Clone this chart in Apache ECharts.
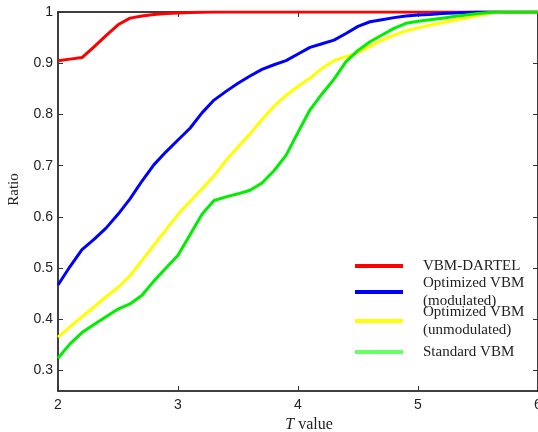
<!DOCTYPE html>
<html>
<head>
<meta charset="utf-8">
<script src="https://cdn.jsdelivr.net/npm/echarts@6/dist/echarts.min.js"></script>
<style>html,body{margin:0;padding:0;background:#fff}#c{width:538px;height:432px}</style>
</head>
<body>
<div id="c"></div>
<script>
var tValues = [2.0,2.1,2.2,2.3,2.4,2.5,2.6,2.7,2.8,2.9,3.0,3.1,3.2,3.3,3.4,3.5,3.6,3.7,3.8,3.9,4.0,4.1,4.2,4.3,4.4,4.5,4.6,4.7,4.8,4.9,5.0,5.1,5.2,5.3,5.4,5.5,5.6,5.7,5.8,5.9,6.0];
var dartel = [0.905,0.908,0.911,0.932,0.954,0.975,0.988,0.992,0.995,0.997,0.998,0.999,0.9995,1,1,1,1,1,1,1,1,1,1,1,1,1,1,1,1,1,1,1,1,1,1,1,1,1,1,1,1];
var optMod = [0.467,0.503,0.536,0.556,0.578,0.605,0.635,0.670,0.702,0.727,0.750,0.773,0.803,0.828,0.845,0.861,0.875,0.888,0.897,0.905,0.918,0.931,0.938,0.945,0.958,0.972,0.981,0.985,0.989,0.992,0.994,0.995,0.997,0.998,0.999,1,1,1,1,1,1];
var optUnmod = [0.365,0.385,0.405,0.424,0.444,0.462,0.485,0.515,0.545,0.575,0.605,0.630,0.655,0.680,0.710,0.737,0.762,0.790,0.816,0.837,0.855,0.871,0.890,0.905,0.913,0.921,0.933,0.945,0.955,0.963,0.969,0.974,0.979,0.984,0.988,0.993,0.998,1,1,1,1];
var standard = [0.324,0.352,0.374,0.390,0.405,0.420,0.430,0.447,0.475,0.500,0.525,0.565,0.605,0.632,0.639,0.645,0.652,0.666,0.690,0.720,0.765,0.809,0.840,0.869,0.903,0.925,0.942,0.955,0.968,0.978,0.982,0.985,0.988,0.991,0.994,0.997,0.999,1,1,1,1];
var seriesNames = ['VBM-DARTEL','Optimized VBM\n(modulated)','Optimized VBM\n(unmodulated)','Standard VBM'];
var seriesColors = ['#ff0000','#0000ff','#ffff00','#00ee00'];
var legendColors = ['#ff0000','#0000ff','#ffff00','#66ff66'];
var yTicks = [0.3,0.4,0.5,0.6,0.7,0.8,0.9,1];
var xTicks = [2,3,4,5,6];

function pairs(arr){ return tValues.map(function(t,i){ return [t, arr[i]]; }); }
var allData = [dartel, optMod, optUnmod, standard];

var chart = echarts.init(document.getElementById('c'), null, {renderer:'canvas'});
var legendTops = [257, 274, 303, 343];
var legends = seriesNames.map(function(n, i){
  return {
    data: [{name: n, itemStyle: {color: legendColors[i]}}],
    left: 355, top: legendTops[i], padding: 0,
    icon: 'rect', itemWidth: 48, itemHeight: 4,
    selectedMode: false,
    textStyle: {fontFamily: 'Liberation Serif', fontSize: 15, color: '#222', lineHeight: 18, padding: [0,0,0,15]}
  };
});
var labelStyle = {fontFamily: 'Liberation Sans', fontSize: 14, color: '#222'};
chart.setOption({
  animation: false,
  backgroundColor: '#fff',
  grid: {left: 58, right: 0, top: 12, bottom: 41, containLabel: false, outerBoundsMode: 'none'},
  legend: legends,
  xAxis: [{
    type: 'value', min: 2, max: 6, interval: 1,
    name: '{i|T} value', nameLocation: 'middle', nameGap: 24,
    nameTextStyle: {fontFamily: 'Liberation Serif', fontSize: 16, color: '#222', padding: [0,0,0,22],
      rich: {i: {fontFamily: 'Liberation Serif', fontStyle: 'italic', fontSize: 16, color: '#222'}}},
    axisLine: {show: true, lineStyle: {color: '#000', width: 1.5}},
    axisTick: {show: true, inside: true, length: 5, lineStyle: {color: '#333'}},
    axisLabel: Object.assign({margin: 7, customValues: xTicks}, labelStyle),
    splitLine: {show: false}
  },{
    type: 'value', min: 2, max: 6, interval: 1, position: 'top',
    axisLine: {show: true, lineStyle: {color: '#000', width: 1.5}},
    axisTick: {show: true, inside: true, length: 5, lineStyle: {color: '#333'}},
    axisLabel: {show: false}, splitLine: {show: false}
  }],
  yAxis: [{
    type: 'value', min: 0.26, max: 1,
    name: 'Ratio', nameLocation: 'middle', nameGap: 36,
    nameTextStyle: {fontFamily: 'Liberation Serif', fontSize: 15, color: '#222', padding: [0,0,0,24]},
    axisLine: {show: true, lineStyle: {color: '#000', width: 1.5}},
    axisTick: {show: true, inside: true, length: 5, customValues: yTicks, lineStyle: {color: '#333'}},
    axisLabel: Object.assign({margin: 5, customValues: yTicks}, labelStyle),
    splitLine: {show: false}
  },{
    type: 'value', min: 0.26, max: 1, position: 'right',
    axisLine: {show: true, lineStyle: {color: '#000', width: 1.5}},
    axisTick: {show: true, inside: true, length: 5, customValues: yTicks, lineStyle: {color: '#333'}},
    axisLabel: {show: false}, splitLine: {show: false}
  }],
  series: allData.map(function(d, i){
    return {
      name: seriesNames[i], type: 'line', data: pairs(d),
      showSymbol: false, symbol: 'none', smooth: false,
      lineStyle: {color: seriesColors[i], width: 3},
      itemStyle: {color: seriesColors[i]},
      xAxisIndex: 0, yAxisIndex: 0
    };
  })
});
</script>
</body>
</html>
